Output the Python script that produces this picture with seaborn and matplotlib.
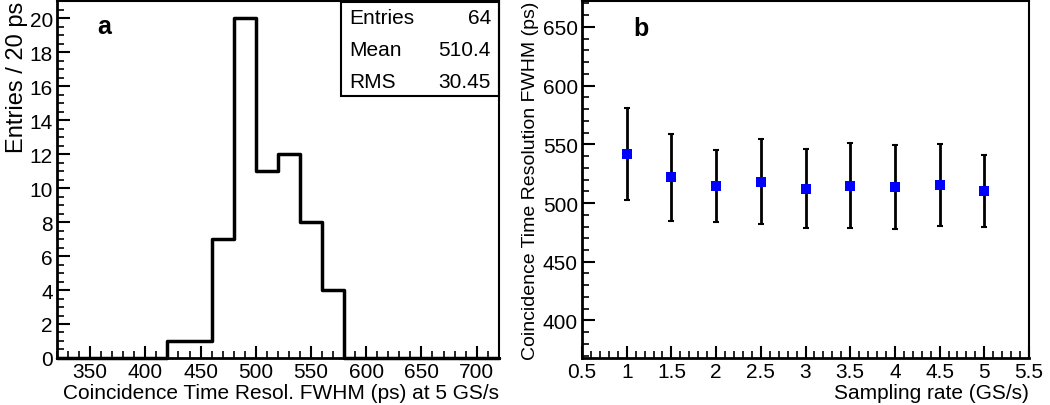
import numpy as np
import pandas as pd
import matplotlib
matplotlib.use("Agg")
import matplotlib.pyplot as plt
from matplotlib.ticker import MultipleLocator
import seaborn as sns

# ---- data ----
bin_edges = [320, 340, 360, 380, 400, 420, 440, 460, 480, 500, 520, 540, 560, 580,
             600, 620, 640, 660, 680, 700, 720]
bin_counts = [0, 0, 0, 0, 0, 1, 1, 7, 20, 11, 12, 8, 4, 0, 0, 0, 0, 0, 0, 0]
stats_labels = ["Entries", "Mean", "RMS"]
stats_values = ["64", "510.4", "30.45"]

sampling_rate = [1.0, 1.5, 2.0, 2.5, 3.0, 3.5, 4.0, 4.5, 5.0]
fwhm = [541.6, 521.8, 514.4, 517.8, 512.2, 514.4, 513.3, 515.6, 509.9]
err_hi = [581.0, 558.9, 545.3, 554.4, 545.9, 551.0, 549.3, 550.4, 541.0]
err_lo = [502.5, 484.7, 484.1, 481.9, 478.8, 478.8, 477.9, 480.7, 479.9]

sns.set_theme(style="ticks")
plt.rcParams['font.family'] = ['Liberation Sans', 'DejaVu Sans']
plt.rcParams['xtick.direction'] = 'in'
plt.rcParams['ytick.direction'] = 'in'
for k in ['text.color', 'axes.labelcolor', 'xtick.color', 'ytick.color', 'axes.edgecolor']:
    plt.rcParams[k] = 'black'

fig = plt.figure(figsize=(10.5, 4.06), dpi=100)
ax1 = fig.add_axes([0.0543, 0.1158, 0.4207, 0.879])
ax2 = fig.add_axes([0.5543, 0.1158, 0.4257, 0.879])

FS = 15

# ---- panel a ----
centers = [(bin_edges[i] + bin_edges[i + 1]) / 2 for i in range(len(bin_counts))]
dfh = pd.DataFrame({"x": centers, "w": bin_counts})
sns.histplot(data=dfh, x="x", weights="w", bins=bin_edges, element="step",
             fill=False, color="black", linewidth=2.5, ax=ax1, clip_on=False)
ax1.set_xlim(320, 720)
ax1.set_ylim(0, 21)
ax1.xaxis.set_major_locator(MultipleLocator(50))
ax1.xaxis.set_minor_locator(MultipleLocator(10))
ax1.yaxis.set_major_locator(MultipleLocator(2))
ax1.yaxis.set_minor_locator(MultipleLocator(0.5))
ax1.set_xticks([350, 400, 450, 500, 550, 600, 650, 700])
ax1.set_xlabel("Coincidence Time Resol. FWHM (ps) at 5 GS/s", fontsize=FS, loc="right", labelpad=1)
ax1.set_ylabel("Entries / 20 ps", fontsize=17, loc="top", labelpad=1)
ax1.text(0.09, 0.93, "a", transform=ax1.transAxes, fontsize=18, fontweight="bold",
         ha="left", va="center")

# stats box
box_left = 0.642
ax1.add_patch(plt.Rectangle((box_left, 0.735), 1 - box_left, 0.262, transform=ax1.transAxes,
                            fill=False, edgecolor="black", linewidth=1.5, clip_on=False))
for i, (lab, val) in enumerate(zip(stats_labels, stats_values)):
    yy = 0.953 - i * 0.089
    ax1.text(box_left + 0.02, yy, lab, transform=ax1.transAxes, fontsize=FS, ha="left", va="center")
    ax1.text(0.982, yy, val, transform=ax1.transAxes, fontsize=FS, ha="right", va="center")

# ---- panel b ----
dfp = pd.DataFrame({"rate": sampling_rate, "fwhm": fwhm})
yerr = np.array([np.array(fwhm) - np.array(err_lo), np.array(err_hi) - np.array(fwhm)])
ax2.errorbar(sampling_rate, fwhm, yerr=yerr, fmt="none", ecolor="black",
             elinewidth=2, capsize=2, capthick=1.5, zorder=2)
sns.scatterplot(data=dfp, x="rate", y="fwhm", marker="s", s=58, color="#0000ff",
                edgecolor="#0000ff", linewidth=0, ax=ax2, zorder=3)
ax2.set_xlim(0.5, 5.5)
ax2.set_ylim(368, 672)
ax2.xaxis.set_major_locator(MultipleLocator(0.5))
ax2.xaxis.set_minor_locator(MultipleLocator(0.1))
ax2.yaxis.set_major_locator(MultipleLocator(50))
ax2.yaxis.set_minor_locator(MultipleLocator(10))
ax2.set_xticks([0.5, 1, 1.5, 2, 2.5, 3, 3.5, 4, 4.5, 5, 5.5])
ax2.set_xticklabels(["0.5", "1", "1.5", "2", "2.5", "3", "3.5", "4", "4.5", "5", "5.5"])
ax2.set_xlabel("Sampling rate (GS/s)", fontsize=FS, loc="right", labelpad=1)
ax2.set_ylabel("Coincidence Time Resolution FWHM (ps)", fontsize=14, loc="top", labelpad=3)
ax2.text(0.115, 0.925, "b", transform=ax2.transAxes, fontsize=18, fontweight="bold",
         ha="left", va="center")

for ax in (ax1, ax2):
    ax.tick_params(which="major", length=9, width=1.5, labelsize=FS, pad=3,
                   top=False, right=False, color="black")
    ax.tick_params(which="minor", length=5, width=1.2, top=False, right=False, color="black")
    for s in ax.spines.values():
        s.set_linewidth(1.5)
        s.set_color("black")
    ax.spines["left"].set_linewidth(2)
    ax.spines["bottom"].set_linewidth(2)

fig.savefig("out.png", dpi=100)
